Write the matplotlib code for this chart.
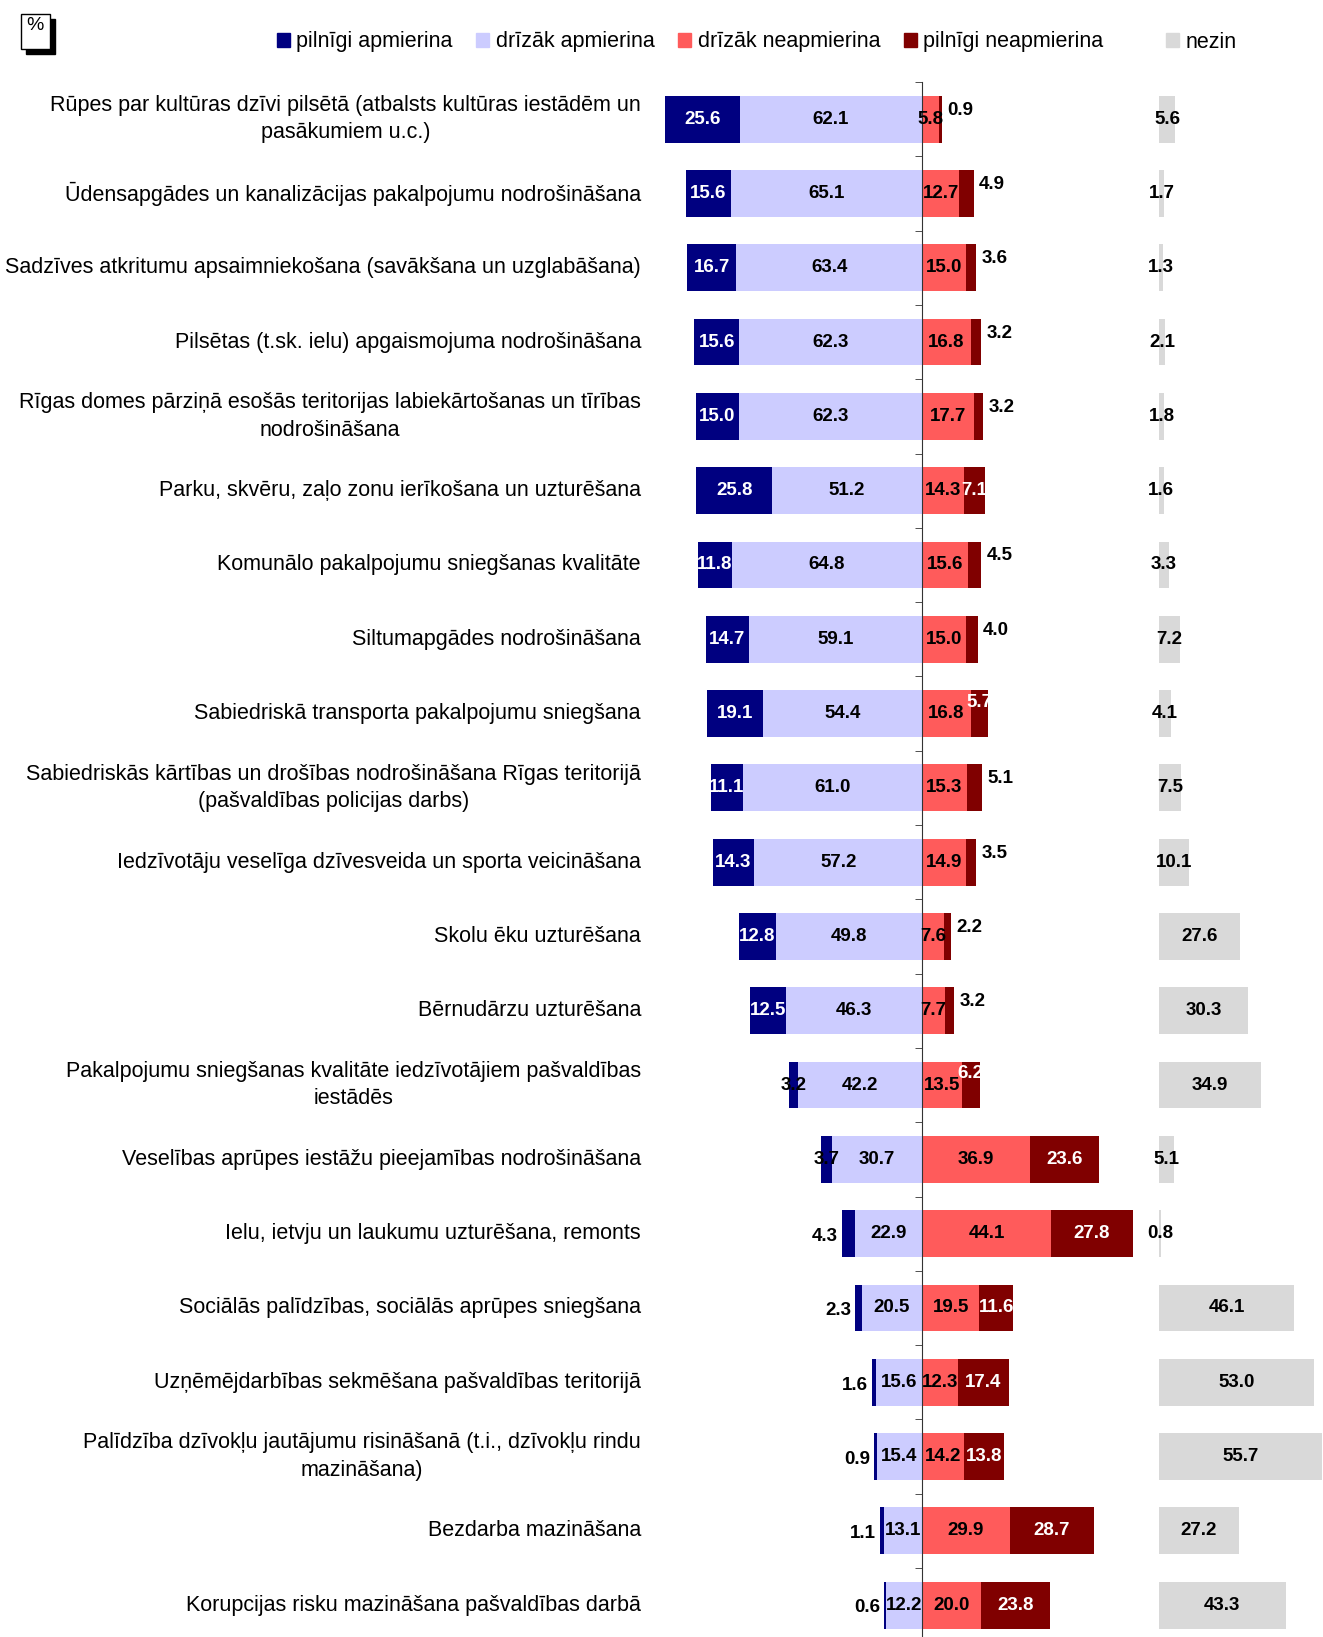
import numpy as np
import matplotlib.pyplot as plt
from matplotlib.patches import Rectangle

plt.rcParams['font.family'] = ['Liberation Sans', 'DejaVu Sans']

categories = [
    "Rūpes par kultūras dzīvi pilsētā (atbalsts kultūras iestādēm un\npasākumiem u.c.)",
    "Ūdensapgādes un kanalizācijas pakalpojumu nodrošināšana",
    "Sadzīves atkritumu apsaimniekošana (savākšana un uzglabāšana)",
    "Pilsētas (t.sk. ielu) apgaismojuma nodrošināšana",
    "Rīgas domes pārziņā esošās teritorijas labiekārtošanas un tīrības\nnodrošināšana",
    "Parku, skvēru, zaļo zonu ierīkošana un uzturēšana",
    "Komunālo pakalpojumu sniegšanas kvalitāte",
    "Siltumapgādes nodrošināšana",
    "Sabiedriskā transporta pakalpojumu sniegšana",
    "Sabiedriskās kārtības un drošības nodrošināšana Rīgas teritorijā\n(pašvaldības policijas darbs)",
    "Iedzīvotāju veselīga dzīvesveida un sporta veicināšana",
    "Skolu ēku uzturēšana",
    "Bērnudārzu uzturēšana",
    "Pakalpojumu sniegšanas kvalitāte iedzīvotājiem pašvaldības\niestādēs",
    "Veselības aprūpes iestāžu pieejamības nodrošināšana",
    "Ielu, ietvju un laukumu uzturēšana, remonts",
    "Sociālās palīdzības, sociālās aprūpes sniegšana",
    "Uzņēmējdarbības sekmēšana pašvaldības teritorijā",
    "Palīdzība dzīvokļu jautājumu risināšanā (t.i., dzīvokļu rindu\nmazināšana)",
    "Bezdarba mazināšana",
    "Korupcijas risku mazināšana pašvaldības darbā",
]

full_sat = [25.6, 15.6, 16.7, 15.6, 15.0, 25.8, 11.8, 14.7, 19.1, 11.1, 14.3,
            12.8, 12.5, 3.2, 3.7, 4.3, 2.3, 1.6, 0.9, 1.1, 0.6]
rather_sat = [62.1, 65.1, 63.4, 62.3, 62.3, 51.2, 64.8, 59.1, 54.4, 61.0, 57.2,
              49.8, 46.3, 42.2, 30.7, 22.9, 20.5, 15.6, 15.4, 13.1, 12.2]
rather_unsat = [5.8, 12.7, 15.0, 16.8, 17.7, 14.3, 15.6, 15.0, 16.8, 15.3, 14.9,
                7.6, 7.7, 13.5, 36.9, 44.1, 19.5, 12.3, 14.2, 29.9, 20.0]
full_unsat = [0.9, 4.9, 3.6, 3.2, 3.2, 7.1, 4.5, 4.0, 5.7, 5.1, 3.5,
              2.2, 3.2, 6.2, 23.6, 27.8, 11.6, 17.4, 13.8, 28.7, 23.8]
dont_know = [5.6, 1.7, 1.3, 2.1, 1.8, 1.6, 3.3, 7.2, 4.1, 7.5, 10.1,
             27.6, 30.3, 34.9, 5.1, 0.8, 46.1, 53.0, 55.7, 27.2, 43.3]

legend_labels = ["pilnīgi apmierina", "drīzāk apmierina", "drīzāk neapmierina",
                 "pilnīgi neapmierina"]

c_fs = "#000080"
c_rs = "#CCCCFF"
c_ru = "#FF5B5B"
c_fu = "#800000"
c_dk = "#D9D9D9"

W, H = 1323, 1637
px = 2.93  # pixels per percent
fig = plt.figure(figsize=(W / 100, H / 100), dpi=100)
ax = fig.add_axes([650 / W, 0, 500 / W, (H - 82) / H])
ax2 = fig.add_axes([1159 / W, 0, 164 / W, (H - 82) / H])

fs = np.array(full_sat)
rs = np.array(rather_sat)
ru = np.array(rather_unsat)
fu = np.array(full_unsat)
dk = np.array(dont_know)
y = np.arange(len(categories))
bh = 0.63

ax.barh(y, -rs, height=bh, color=c_rs)
ax.barh(y, -fs, left=-rs, height=bh, color=c_fs)
ax.barh(y, ru, height=bh, color=c_ru)
ax.barh(y, fu, left=ru, height=bh, color=c_fu)
ax2.barh(y, dk, height=bh, color=c_dk)

ax.set_xlim(-(922 - 650) / px, (1150 - 922) / px)
ax2.set_xlim(0, 164 / px)
ylim = (0.5 + (H - 82) / 74.3 - 1, -0.5)
ax.set_ylim(*ylim)
ax2.set_ylim(*ylim)

for s in ["left", "top", "bottom"]:
    ax.spines[s].set_visible(False)
ax.spines["right"].set_position(("data", 0))
ax.spines["right"].set_color("#333333")
ax.set_xticks([])
ax.set_yticks(y, categories, multialignment="center", linespacing=1.4)
for lbl in ax.get_yticklabels():
    lbl.set_verticalalignment("center")
ax.set_yticks(np.arange(-0.5, len(categories) - 1, 1), minor=True)
ax.tick_params(axis="y", which="major", length=0, pad=6.5, labelsize=15.5,
               left=True, right=False)
ax.tick_params(axis="y", which="minor", left=False, right=True,
               direction="in", length=5, color="#333333")
ax2.axis("off")

vfont = dict(fontsize=13.5, fontweight="bold",
             family=["Liberation Sans Narrow", "Liberation Sans", "DejaVu Sans"])

for i in y:
    # pilnigi apmierina
    v = fs[i]
    if v >= 10:
        ax.text(-rs[i] - v / 2, i, f"{v:.1f}", color="white", ha="center", va="center", **vfont)
    elif 3 <= v < 4:
        ax.text(-rs[i] - v / 2, i, f"{v:.1f}", color="black", ha="center", va="center", **vfont)
    else:
        ax.annotate(f"{v:.1f}", (-rs[i] - v, i), xytext=(-3, -2), textcoords="offset points",
                    ha="right", va="center", color="black", **vfont)
    # drizak apmierina
    ax.text(-rs[i] / 2, i, f"{rs[i]:.1f}", ha="center", va="center", color="black", **vfont)
    # drizak neapmierina
    ax.text(ru[i] / 2, i, f"{ru[i]:.1f}", ha="center", va="center", color="black", **vfont)
    # pilnigi neapmierina
    v = fu[i]
    if v >= 7:
        ax.text(ru[i] + v / 2, i, f"{v:.1f}", color="white", ha="center", va="center", **vfont)
    elif v >= 5.5:
        ax.annotate(f"{v:.1f}", (ru[i] + v / 2, i), xytext=(0, 8), textcoords="offset points",
                    ha="center", va="center", color="white", **vfont)
    else:
        ax.annotate(f"{v:.1f}", (ru[i] + v, i), xytext=(4, 6.5), textcoords="offset points",
                    ha="left", va="center", color="black", **vfont)
    # nezin
    ax2.text(dk[i] / 2, i, f"{dk[i]:.1f}", ha="center", va="center", color="black",
             clip_on=False, **vfont)

handles = [Rectangle((0, 0), 1, 1, color=c) for c in [c_fs, c_rs, c_ru, c_fu]]
fig.legend(handles, legend_labels, loc="center left", bbox_to_anchor=(277 / W, 1 - 42 / H),
           ncol=4, frameon=False, fontsize=15.5, handlelength=0.6, handleheight=0.6,
           handletextpad=0.3, columnspacing=1.1, borderpad=0, borderaxespad=0)
fig.legend([Rectangle((0, 0), 1, 1, color=c_dk)], ["nezin"], loc="center left",
           bbox_to_anchor=(1166 / W, 1 - 42 / H), frameon=False, fontsize=15.5,
           handlelength=0.6, handleheight=0.6, handletextpad=0.3,
           borderpad=0, borderaxespad=0)

# % box with shadow
fig.add_artist(Rectangle((26 / W, 1 - 54 / H), 29 / W, 35 / H, color="black",
                         transform=fig.transFigure))
fig.add_artist(Rectangle((21 / W, 1 - 49 / H), 29 / W, 35 / H, facecolor="white",
                         edgecolor="black", linewidth=1, transform=fig.transFigure))
fig.text(35 / W, 1 - 26 / H, "%", ha="center", va="center", fontsize=14)

fig.savefig("out.png", dpi=100)
